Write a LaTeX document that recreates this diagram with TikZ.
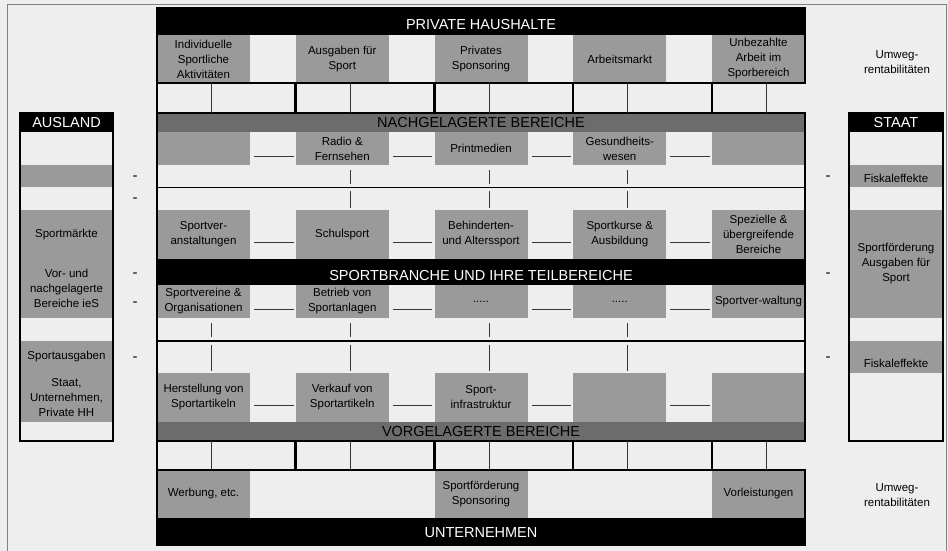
\documentclass[tikz,border=0pt]{standalone}
\usepackage{fontspec}
\setmainfont{Liberation Sans}

\definecolor{bglight}{RGB}{238,238,238}
\definecolor{boxgray}{RGB}{154,154,154}
\definecolor{bandgray}{RGB}{108,108,108}
\definecolor{linegray}{RGB}{55,55,55}

\newcommand{\boxfont}{\fontsize{11.5}{15}\selectfont}
\newcommand{\headfont}{\fontsize{14.5}{17}\selectfont}

\tikzset{
  cell/.style={fill=boxgray, minimum width=93pt, inner sep=0pt, align=center, font=\boxfont},
  band/.style={fill=bandgray, minimum width=648pt, minimum height=19pt, inner sep=0pt, font=\headfont},
  headw/.style={text=white, inner sep=0pt, font=\headfont},
  note/.style={inner sep=0pt, align=center, font=\boxfont},
  dashmark/.style={inner sep=0pt, font=\fontsize{15}{15}\selectfont},
  link/.style={draw=linegray, line width=0.9pt},
  divider/.style={draw=bglight, line width=3pt, double=black, double distance=1.3pt},
  thickframe/.style={line width=2.6pt},
}

\begin{document}
\begin{tikzpicture}[x=1pt, y=-1pt]
  \useasboundingbox[fill=bglight] (0,0) rectangle (948,551);

  %% Outer frame.
  \draw[gray, line width=0.8pt] (7,553) -- (7,4) -- (946,4) -- (946,553);


  %% Top block: private households.
  \fill[black] (157,8) rectangle (805,35);
  \node[headw] (ph) at (481,25) {PRIVATE HAUSHALTE};
  \node[cell, minimum height=48pt] (p1) at (203.5,59) {Individuelle\\Sportliche\\Aktivitäten};
  \node[cell, minimum height=48pt] (p2) at (342.25,59) {Ausgaben für\\Sport};
  \node[cell, minimum height=48pt] (p3) at (481,59) {Privates\\Sponsoring};
  \node[cell, minimum height=48pt] (p4) at (619.75,59) {Arbeitsmarkt};
  \node[cell, minimum height=48pt] (p5) at (758.5,59) {Unbezahlte\\Arbeit im\\Sporbereich};
  \draw[thickframe] (157,8) rectangle (805,83);


  %% Middle block: rows of the sport sector.
  \node[band] (nband) at (481,122.5) {NACHGELAGERTE BEREICHE};

  \node[cell, minimum height=33pt] (n1) at (203.5,148.5) {};
  \node[cell, minimum height=33pt] (n2) at (342.25,148.5) {Radio \&\\Fernsehen};
  \node[cell, minimum height=33pt] (n3) at (481,148.5) {Printmedien};
  \node[cell, minimum height=33pt] (n4) at (619.75,148.5) {Gesundheits-\\wesen};
  \node[cell, minimum height=33pt] (n5) at (758.5,148.5) {};

  \node[cell, minimum height=49pt] (s1) at (203.5,234.5) {Sportver-\\anstaltungen};
  \node[cell, minimum height=49pt] (s2) at (342.25,234.5) {Schulsport};
  \node[cell, minimum height=49pt] (s3) at (481,234.5) {Behinderten-\\und Alterssport};
  \node[cell, minimum height=49pt] (s4) at (619.75,234.5) {Sportkurse \&\\Ausbildung};
  \node[cell, minimum height=49pt] (s5) at (758.5,234.5) {Spezielle \&\\übergreifende\\Bereiche};

  \node[cell, minimum height=33pt] (v1) at (203.5,301.5) {Sportvereine \&\\Organisationen};
  \node[cell, minimum height=33pt] (v2) at (342.25,301.5) {Betrieb von\\Sportanlagen};
  \node[cell, minimum height=33pt] (v3) at (481,301.5) {.....};
  \node[cell, minimum height=33pt] (v4) at (619.75,301.5) {.....};
  \node[cell, minimum height=33pt] (v5) at (758.5,301.5) {Sportver-waltung};

  \node[cell, minimum height=49pt] (h1) at (203.5,397.5) {Herstellung von\\Sportartikeln};
  \node[cell, minimum height=49pt] (h2) at (342.25,397.5) {Verkauf von\\Sportartikeln};
  \node[cell, minimum height=49pt] (h3) at (481,397.5) {Sport-\\infrastruktur};
  \node[cell, minimum height=49pt] (h4) at (619.75,397.5) {};
  \node[cell, minimum height=49pt] (h5) at (758.5,397.5) {};

  %% Horizontal links in each row.
  \coordinate (nline) at (0,156);
  \coordinate (sline) at (0,242);
  \coordinate (vline) at (0,309);
  \coordinate (hline) at (0,405);
  \foreach \r in {n,s,v,h} {
    \foreach \a/\b in {1/2,2/3,3/4,4/5} {
      \draw[link, shorten <=4pt, shorten >=2pt]
      (\r\a.east |- \r line) -- (\r\b.west |- \r line);
    }
  }

  %% Vertical links between the rows.
  \foreach \c in {2,3,4}
    \draw[link, shorten <=5pt, shorten >=2pt] ([xshift=8pt]n\c.south) -- ([xshift=8pt]s\c.north);
  \foreach \c in {1,2,3,4}
    \draw[link, shorten <=5pt, shorten >=1.5pt] ([xshift=8pt]v\c.south) -- ([xshift=8pt]h\c.north);

  \draw[divider] (157,187.5) -- (805,187.5);
  \draw[divider] (157,341) -- (805,341);

  \fill[black] (157,259) rectangle (805,285);
  \node[headw] (sb) at (481,275.5) {SPORTBRANCHE UND IHRE TEILBEREICHE};

  \node[band] (vband) at (481,431.5) {VORGELAGERTE BEREICHE};
  \draw[thickframe] (157,113) rectangle (805,441);


  %% Links from the households down to the middle block.
  \foreach \c in {1,...,5}
    \draw[link] ([xshift=8pt]p\c.south) -- ([xshift=8pt]p\c.south |- nband.north);
  \foreach \c in {1,...,5}
    \draw[thickframe] (p\c.south west) -- (p\c.south west |- nband.north);


  %% Bottom block: enterprises.
  \node[cell, minimum height=48pt] (u1) at (203.5,494) {Werbung, etc.};
  \node[cell, minimum height=48pt] (u3) at (481,494) {Sportförderung\\Sponsoring};
  \node[cell, minimum height=48pt] (u5) at (758.5,494) {Vorleistungen};
  \fill[black] (157,518) rectangle (805,545);
  \node[headw] (ut) at (481,533) {UNTERNEHMEN};
  \draw[thickframe] (157,470) rectangle (805,545);

  \foreach \c in {1,...,5}
    \draw[link] ([xshift=8pt]h\c.south |- vband.south) -- ([xshift=8pt]h\c.south |- u1.north);
  \foreach \c in {1,...,5}
    \draw[thickframe] (h\c.south west |- vband.south) -- (h\c.south west |- u1.north);


  %% Left box: Ausland.
  \fill[black] (20,113) rectangle (113,132);
  \fill[boxgray] (20,165) rectangle (113,187);
  \fill[boxgray] (20,210) rectangle (113,318);
  \fill[boxgray] (20,341) rectangle (113,422);
  \node[headw] (al) at (66.5,123) {AUSLAND};
  \node[note] (a1) at (66.5,235) {Sportmärkte};
  \node[note] (a2) at (66.5,288.5) {Vor- und\\nachgelagerte\\Bereiche ieS};
  \node[note] (a3) at (66.5,357) {Sportausgaben};
  \node[note] (a4) at (66.5,398) {Staat,\\Unternehmen,\\Private HH};
  \draw[thickframe] (20,113) rectangle (113,441);

  \node[dashmark] (da1) at (135,178) {-};
  \node[dashmark] (da2) at (135,200) {-};
  \node[dashmark] (da3) at (135,275) {-};
  \node[dashmark] (da4) at (135,304) {-};
  \node[dashmark] (da5) at (135,359) {-};


  %% Right box: Staat.
  \fill[black] (849,113) rectangle (943,132);
  \fill[boxgray] (849,165) rectangle (943,187);
  \fill[boxgray] (849,210) rectangle (943,318);
  \fill[boxgray] (849,341) rectangle (943,373);
  \node[headw] (st) at (896,123) {STAAT};
  \node[note] (b1) at (896,178) {Fiskaleffekte};
  \node[note] (b2) at (896,264) {Sportförderung\\Ausgaben für\\Sport};
  \node[note] (b3) at (896,363) {Fiskaleffekte};
  \draw[thickframe] (849,113) rectangle (943,441);

  \node[dashmark] (db1) at (828,178) {-};
  \node[dashmark] (db2) at (828,275) {-};
  \node[dashmark] (db3) at (828,359) {-};

  \node[note] (uw1) at (897,62) {Umweg-\\rentabilitäten};
  \node[note] (uw2) at (897,495) {Umweg-\\rentabilitäten};

\end{tikzpicture}
\end{document}
